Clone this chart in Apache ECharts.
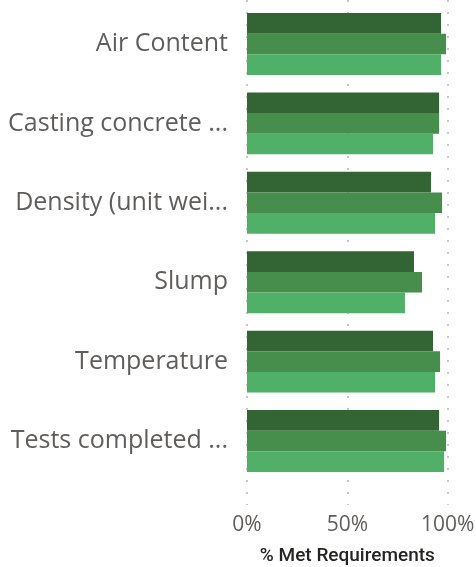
<!DOCTYPE html>
<html>
<head>
<meta charset="utf-8">
<script src="https://cdn.jsdelivr.net/npm/echarts@6/dist/echarts.min.js"></script>
<style>
html,body{margin:0;padding:0;background:#fff;}
#chart{width:476px;height:567px;}
</style>
</head>
<body>
<div id="chart"></div>
<script>
const categories = ["Air Content", "Casting concrete ...", "Density (unit wei...", "Slump", "Temperature", "Tests completed ..."];
const seriesDark = [96.7, 95.7, 91.7, 83.2, 92.7, 95.7];
const seriesMid = [99.2, 95.7, 97.2, 87.2, 96.2, 99.2];
const seriesLight = [96.7, 92.7, 93.7, 78.7, 93.7, 98.2];
const xTicks = [0, 50, 100];
const axisTitle = "% Met Requirements";

const chart = echarts.init(document.getElementById('chart'), null, {renderer: 'canvas'});
const font = "'Segoe UI', 'Open Sans', sans-serif";
const mk = (name, data, color) => ({
  name, type: 'bar', data, xAxisIndex: 0, yAxisIndex: 0,
  barGap: '0%', barCategoryGap: '22%',
  itemStyle: {color}, animation: false
});
chart.setOption({
  animation: false,
  grid: [
    {left: 247, right: 28.3, top: 4.3, height: 476.4, outerBoundsMode: 'none', containLabel: false},
    {left: 247, right: 28.3, top: 0, bottom: 62, outerBoundsMode: 'none', containLabel: false}
  ],
  xAxis: [
    {gridIndex: 0, type: 'value', min: 0, max: 100, show: false},
    {gridIndex: 1, type: 'value', min: xTicks[0], max: xTicks[xTicks.length - 1], interval: xTicks[1] - xTicks[0],
      axisLine: {show: false}, axisTick: {show: false},
      axisLabel: {formatter: '{value}%', color: '#605E5C', fontSize: 21, fontFamily: font, margin: 10},
      splitLine: {show: true, lineStyle: {color: '#C8C8C8', width: 2, type: [2, 10]}},
      name: axisTitle, nameLocation: 'middle', nameGap: 42,
      nameTextStyle: {color: '#252423', fontSize: 19, fontWeight: 500, fontFamily: "'DIN', 'Roboto', sans-serif"}
    }
  ],
  yAxis: [
    {gridIndex: 0, type: 'category', data: categories, inverse: true,
      axisLine: {show: false}, axisTick: {show: false}, splitLine: {show: false},
      axisLabel: {color: '#605E5C', fontSize: 25, fontFamily: font, margin: 19}
    },
    {gridIndex: 1, type: 'value', min: 0, max: 1, show: false}
  ],
  series: [
    mk('Dark', seriesDark, '#326434'),
    mk('Mid', seriesMid, '#478D4B'),
    mk('Light', seriesLight, '#50B067')
  ]
});
</script>
</body>
</html>
